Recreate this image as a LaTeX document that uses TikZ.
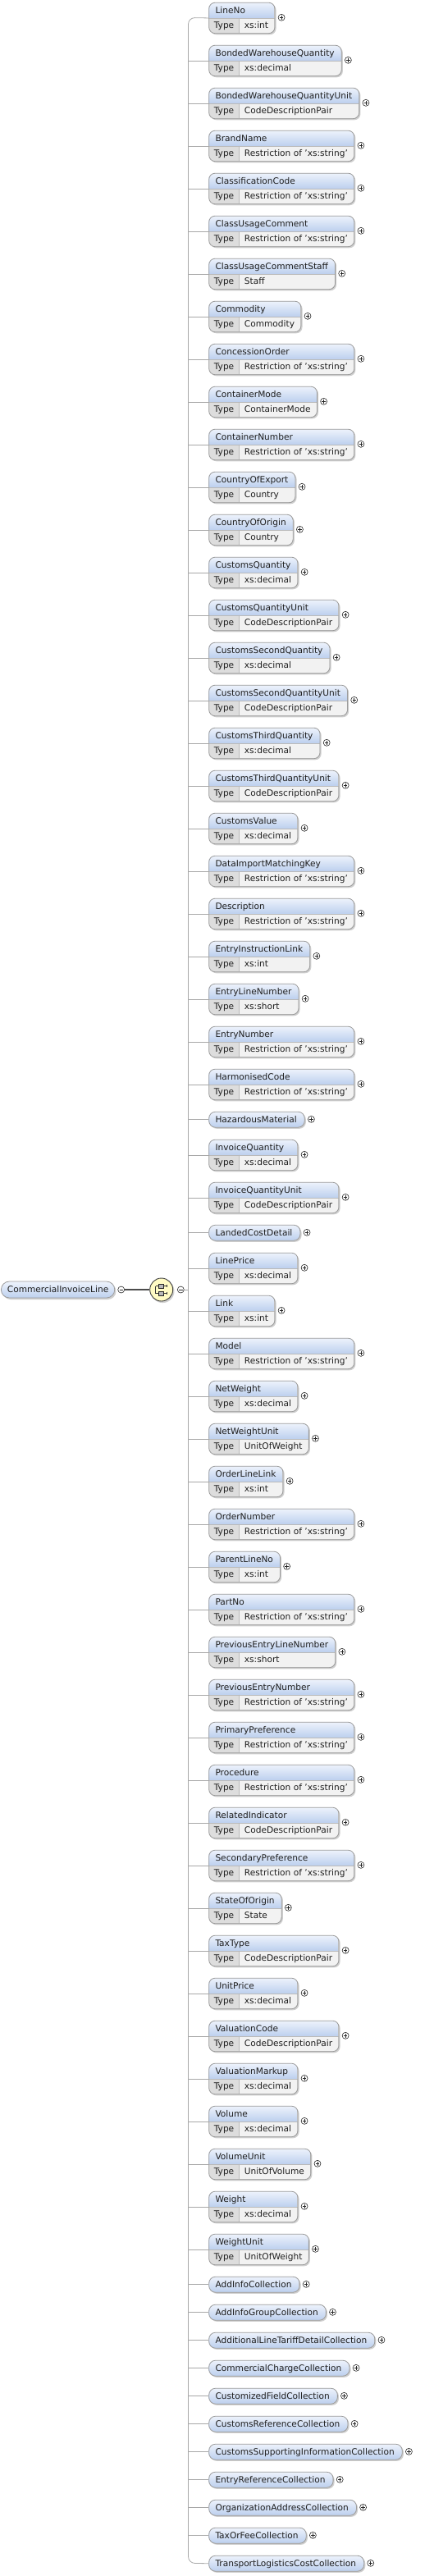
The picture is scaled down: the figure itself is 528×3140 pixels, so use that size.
\documentclass[tikz,border=0pt]{standalone}
\usepackage{fontspec}
\setmainfont{DejaVu Sans}
\definecolor{hdtop}{HTML}{EEF3FC}
\definecolor{hdbot}{HTML}{BDD0EE}
\definecolor{bordc}{HTML}{9C9C9C}
\definecolor{typec}{HTML}{DDDDDD}
\definecolor{valc}{HTML}{F2F2F2}
\definecolor{shadc}{HTML}{CFCFCF}
\definecolor{connc}{HTML}{A8A8A8}
\definecolor{seqfill}{HTML}{FFFBC4}
\definecolor{txtc}{HTML}{1E1E1E}
\pgfdeclarelayer{background}
\pgfsetlayers{background,main}
\newcommand\bfnt{\fontsize{10.6}{12}\selectfont}
\tikzset{
  txt/.style={inner sep=0pt, font=\bfnt, text=txtc},
  boxframe/.style={draw=bordc, line width=0.8pt, rounded corners=7.5pt, inner sep=0pt, anchor=north west},
  conn/.style={draw=connc, line width=0.8pt},
  plusc/.style={circle, draw=black!85, line width=0.6pt, minimum size=8pt, inner sep=0pt, fill=white,
    path picture={\draw[line width=0.6pt]
      ([xshift=-2.2pt]path picture bounding box.center) -- ([xshift=2.2pt]path picture bounding box.center)
      ([yshift=-2.2pt]path picture bounding box.center) -- ([yshift=2.2pt]path picture bounding box.center);}},
  minusc/.style={circle, draw=black!85, line width=0.6pt, minimum size=8pt, inner sep=0pt, fill=white,
    path picture={\draw[line width=0.6pt]
      ([xshift=-2.2pt]path picture bounding box.center) -- ([xshift=2.2pt]path picture bounding box.center);}},
}
\newcommand\typedel[4]{%
  \node[txt, anchor=base west] (e#1n) at (262.3,-#2+4.7) {#3};
  \node[txt, anchor=base west] (e#1k) at (260.7,-#2-13.3) {Type};
  \node[txt, anchor=base west] (e#1t) at (297.7,-#2-13.3) {#4};
  \pgfpointanchor{e#1n}{east}\pgfgetlastxy\xa\ya
  \pgfpointanchor{e#1t}{east}\pgfgetlastxy\xb\yb
  \pgfmathsetmacro\bw{max(\xa+8pt-254.3pt,\xb+7.3pt-254.3pt)}%
  \pgfmathsetmacro\yt{-#2+18.5}%
  \pgfmathsetmacro\ys{-#2-0.5}%
  \pgfmathsetmacro\ybt{-#2-19}%
  \begin{pgfonlayer}{background}
  \fill[shadc, rounded corners=7.5pt] (256.3,\yt-2) rectangle (254.3+\bw+2,\ybt-2);
  \begin{scope}
    \clip[rounded corners=7.5pt] (254.3,\yt) rectangle (254.3+\bw,\ybt);
    \shade[top color=hdtop, bottom color=hdbot] (254.3,\yt) rectangle (254.3+\bw,\ys);
    \fill[typec] (254.3,\ys) rectangle (291.7,\ybt);
    \fill[valc] (291.7,\ys) rectangle (254.3+\bw,\ybt);
  \end{scope}
  \draw[bordc!70, line width=0.6pt] (254.3,\ys) -- (254.3+\bw,\ys) (291.7,\ys) -- (291.7,\ybt);
  \end{pgfonlayer}
  \node[boxframe, minimum width=\bw pt, minimum height=37.5pt] (e#1) at (254.3,\yt) {};
  \node[plusc] (p#1) at (254.3+\bw+8.5,-#2) {};
}
\newcommand\simpleel[3]{%
  \node[txt, anchor=base west] (e#1n) at (262.3,-#2-4.3) {#3};
  \pgfpointanchor{e#1n}{east}\pgfgetlastxy\xa\ya
  \pgfmathsetmacro\bw{\xa+9pt-254.3pt}%
  \pgfmathsetmacro\yt{-#2+9.5}%
  \pgfmathsetmacro\ybt{-#2-9.5}%
  \begin{pgfonlayer}{background}
  \fill[shadc, rounded corners=8pt] (256.3,\yt-2) rectangle (254.3+\bw+2,\ybt-2);
  \shade[rounded corners=8pt, top color=hdtop, bottom color=hdbot] (254.3,\yt) rectangle (254.3+\bw,\ybt);
  \end{pgfonlayer}
  \node[boxframe, rounded corners=8pt, minimum width=\bw pt, minimum height=19pt] (e#1) at (254.3,\yt) {};
  \node[plusc] (p#1) at (254.3+\bw+8.5,-#2) {};
}
\begin{document}
\begin{tikzpicture}[x=1pt,y=1pt]
\useasboundingbox (0,0) rectangle (528,-3140);
\begin{pgfonlayer}{background}
\fill[white] (0,0) rectangle (528,-3140);
\end{pgfonlayer}
\typedel{1}{21.3}{LineNo}{xs:int}
\typedel{2}{73.3}{BondedWarehouseQuantity}{xs:decimal}
\typedel{3}{125.3}{BondedWarehouseQuantityUnit}{CodeDescriptionPair}
\typedel{4}{177.3}{BrandName}{Restriction of 'xs:string'}
\typedel{5}{229.3}{ClassificationCode}{Restriction of 'xs:string'}
\typedel{6}{281.3}{ClassUsageComment}{Restriction of 'xs:string'}
\typedel{7}{333.3}{ClassUsageCommentStaff}{Staff}
\typedel{8}{385.3}{Commodity}{Commodity}
\typedel{9}{437.3}{ConcessionOrder}{Restriction of 'xs:string'}
\typedel{10}{489.3}{ContainerMode}{ContainerMode}
\typedel{11}{541.3}{ContainerNumber}{Restriction of 'xs:string'}
\typedel{12}{593.3}{CountryOfExport}{Country}
\typedel{13}{645.3}{CountryOfOrigin}{Country}
\typedel{14}{697.3}{CustomsQuantity}{xs:decimal}
\typedel{15}{749.3}{CustomsQuantityUnit}{CodeDescriptionPair}
\typedel{16}{801.3}{CustomsSecondQuantity}{xs:decimal}
\typedel{17}{853.3}{CustomsSecondQuantityUnit}{CodeDescriptionPair}
\typedel{18}{905.3}{CustomsThirdQuantity}{xs:decimal}
\typedel{19}{957.3}{CustomsThirdQuantityUnit}{CodeDescriptionPair}
\typedel{20}{1009.3}{CustomsValue}{xs:decimal}
\typedel{21}{1061.3}{DataImportMatchingKey}{Restriction of 'xs:string'}
\typedel{22}{1113.3}{Description}{Restriction of 'xs:string'}
\typedel{23}{1165.3}{EntryInstructionLink}{xs:int}
\typedel{24}{1217.3}{EntryLineNumber}{xs:short}
\typedel{25}{1269.3}{EntryNumber}{Restriction of 'xs:string'}
\typedel{26}{1321.3}{HarmonisedCode}{Restriction of 'xs:string'}
\simpleel{27}{1364.3}{HazardousMaterial}
\typedel{28}{1407.3}{InvoiceQuantity}{xs:decimal}
\typedel{29}{1459.3}{InvoiceQuantityUnit}{CodeDescriptionPair}
\simpleel{30}{1502.3}{LandedCostDetail}
\typedel{31}{1545.3}{LinePrice}{xs:decimal}
\typedel{32}{1597.3}{Link}{xs:int}
\typedel{33}{1649.3}{Model}{Restriction of 'xs:string'}
\typedel{34}{1701.3}{NetWeight}{xs:decimal}
\typedel{35}{1753.3}{NetWeightUnit}{UnitOfWeight}
\typedel{36}{1805.3}{OrderLineLink}{xs:int}
\typedel{37}{1857.3}{OrderNumber}{Restriction of 'xs:string'}
\typedel{38}{1909.3}{ParentLineNo}{xs:int}
\typedel{39}{1961.3}{PartNo}{Restriction of 'xs:string'}
\typedel{40}{2013.3}{PreviousEntryLineNumber}{xs:short}
\typedel{41}{2065.3}{PreviousEntryNumber}{Restriction of 'xs:string'}
\typedel{42}{2117.3}{PrimaryPreference}{Restriction of 'xs:string'}
\typedel{43}{2169.3}{Procedure}{Restriction of 'xs:string'}
\typedel{44}{2221.3}{RelatedIndicator}{CodeDescriptionPair}
\typedel{45}{2273.3}{SecondaryPreference}{Restriction of 'xs:string'}
\typedel{46}{2325.3}{StateOfOrigin}{State}
\typedel{47}{2377.3}{TaxType}{CodeDescriptionPair}
\typedel{48}{2429.3}{UnitPrice}{xs:decimal}
\typedel{49}{2481.3}{ValuationCode}{CodeDescriptionPair}
\typedel{50}{2533.3}{ValuationMarkup}{xs:decimal}
\typedel{51}{2585.3}{Volume}{xs:decimal}
\typedel{52}{2637.3}{VolumeUnit}{UnitOfVolume}
\typedel{53}{2689.3}{Weight}{xs:decimal}
\typedel{54}{2741.3}{WeightUnit}{UnitOfWeight}
\simpleel{55}{2784.3}{AddInfoCollection}
\simpleel{56}{2818.3}{AddInfoGroupCollection}
\simpleel{57}{2852.3}{AdditionalLineTariffDetailCollection}
\simpleel{58}{2886.3}{CommercialChargeCollection}
\simpleel{59}{2920.3}{CustomizedFieldCollection}
\simpleel{60}{2954.3}{CustomsReferenceCollection}
\simpleel{61}{2988.3}{CustomsSupportingInformationCollection}
\simpleel{62}{3022.3}{EntryReferenceCollection}
\simpleel{63}{3056.3}{OrganizationAddressCollection}
\simpleel{64}{3090.3}{TaxOrFeeCollection}
\simpleel{65}{3124.3}{TransportLogisticsCostCollection}
% trunk and connectors
\coordinate (tt) at (229.5,-21.5);
\coordinate (tb) at (229.5,-3124.3);
\draw[conn, rounded corners=8pt] (e1.west) -- (tt) -- (tb) -- (e65.west);
\foreach \i in {2,...,64} { \draw[conn] (tt |- e\i.west) -- (e\i.west); }
% root element
\fill[shadc, rounded corners=10pt] (3,-1564) rectangle (141.5,-1584);
\node[draw=bordc, line width=0.8pt, rounded corners=10pt, top color=hdtop, bottom color=hdbot,
  minimum height=20pt, inner xsep=7.5pt, inner ysep=0pt, anchor=west, font=\bfnt, text=txtc] (root) at (1,-1572) {CommercialInvoiceLine};
\node[minusc] (rm) at (147.7,-1572) {};
\fill[shadc] (198.2,-1573.8) circle (14.3);
\node[circle, draw=black!75, line width=0.9pt, fill=seqfill, minimum size=28pt, inner sep=0pt] (seq) at (196.7,-1572) {};
\draw[black!70, line width=1.3pt] (rm.east) -- (seq.west);
\node[minusc] (sm) at (220.3,-1572) {};
\draw[conn] (sm.east) -- (tt |- sm.east);
% sequence icon
\begin{scope}[shift={(seq.center)}]
  \draw[black!80, line width=0.7pt] (-7,4.5) -- (-7,-4.5);
  \draw[black!80, line width=0.7pt] (-7,4.5) -- (7,4.5) (-7,-4.5) -- (7,-4.5);
  \draw[black!80, line width=0.7pt] (7,6.3) -- (7,2.7) (7,-2.7) -- (7,-6.3);
  \filldraw[fill=gray!55, draw=black!85, line width=0.6pt] (-3,2) rectangle (3,7);
  \filldraw[fill=gray!55, draw=black!85, line width=0.6pt] (-3,-7) rectangle (3,-2);
\end{scope}
\end{tikzpicture}
\end{document}
